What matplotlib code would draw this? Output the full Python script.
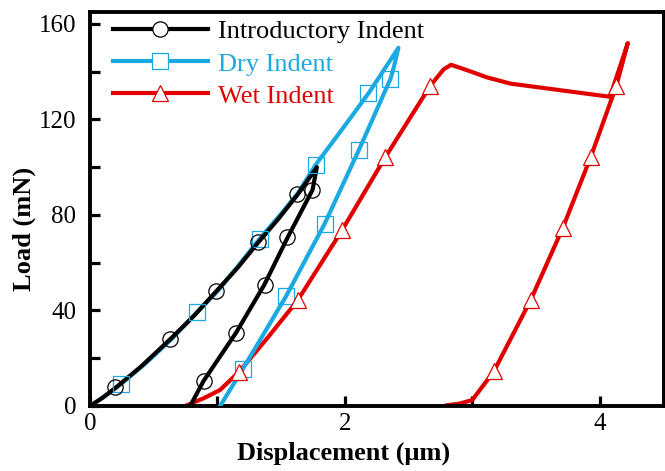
import matplotlib
matplotlib.use("Agg")
import matplotlib.pyplot as plt
from matplotlib.lines import Line2D
from matplotlib.ticker import MultipleLocator

# ---------------- data ----------------
series_names = ["Introductory Indent", "Dry Indent", "Wet Indent"]

intro_x = [0, 0.1, 0.2, 0.4, 0.63, 0.82, 0.99, 1.16, 1.32, 1.48, 1.63, 1.78,
           1.746, 1.55, 1.367, 1.145, 0.89, 0.786]
intro_y = [0, 3.5, 7.6, 16.5, 28, 38, 48, 58, 68.5, 78.5, 88.6, 100,
           90.5, 70.5, 50.7, 30.6, 10.4, 0]
intro_mx = [0.196, 0.628, 0.99, 1.32, 1.626, 1.744, 1.548, 1.375, 1.147, 0.896]
intro_my = [8, 28, 48, 68.5, 88.6, 90.6, 70.6, 50.5, 30.5, 10.4]

dry_x = [0, 0.1, 0.243, 0.45, 0.64, 0.84, 1.0, 1.16, 1.33, 1.5, 1.63, 1.77, 1.98, 2.19, 2.42,
         2.383, 2.357, 2.108, 1.841, 1.540, 1.199, 1.021]
dry_y = [0, 3.5, 9.2, 18.5, 28, 39.3, 48, 58.5, 70, 80.5, 89, 101, 116, 131.3, 150,
         141.7, 136.9, 107, 76.3, 46.1, 15.5, 0]
dry_mx = [0.243, 0.84, 1.33, 1.77, 2.18, 2.357, 2.108, 1.841, 1.540, 1.199]
dry_my = [9.2, 39.3, 70, 101, 131, 137, 107, 76.3, 46.1, 15.5]

wet_x = [0.746, 0.89, 1.02, 1.17, 1.40, 1.63, 1.98, 2.317, 2.67, 2.775, 2.833,
         2.96, 3.116, 3.30, 4.08, 4.22, 4.13, 3.93, 3.71, 3.46, 3.17, 3.0, 2.9, 2.8]
wet_y = [0, 3.2, 6.7, 14.3, 29, 44.3, 73.8, 104.2, 134.1, 141, 142.9,
         140.6, 137.6, 135, 129.5, 152, 134.1, 104.4, 74.6, 44.6, 14.6, 2.5, 1.0, 0.3]
wet_mx = [1.17, 1.63, 1.98, 2.317, 2.67, 4.13, 3.93, 3.71, 3.46, 3.17]
wet_my = [14.3, 44.3, 73.8, 104.2, 134.1, 134.1, 104.4, 74.6, 44.6, 14.6]

x_ticks = [0, 2, 4]
y_ticks = [0, 40, 80, 120, 160]

# ---------------- style ----------------
BLACK = "#000000"
BLUE = "#1BA9E1"
RED = "#E10000"

plt.rcParams["font.family"] = ["Liberation Serif", "DejaVu Serif"]

fig = plt.figure(figsize=(6.65, 4.71), dpi=100)
ax = fig.add_axes([90 / 665, 65 / 471, 573.5 / 665, 394 / 471])

LW = 3.0
MS = 11
MEW = 0.9

ax.plot(wet_x, wet_y, color=RED, lw=LW, solid_joinstyle="round", zorder=2)
ax.plot(dry_x, dry_y, color=BLUE, lw=LW, solid_joinstyle="round", zorder=3)
ax.plot(intro_x, intro_y, color=BLACK, lw=LW, solid_joinstyle="round", zorder=4)

ax.plot(dry_mx, dry_my, ls="none", marker="s", ms=MS, mfc="none", mec=BLUE, mew=MEW, zorder=5)
ax.plot(intro_mx, intro_my, ls="none", marker="o", ms=MS, mfc="none", mec=BLACK, mew=MEW, zorder=6)
ax.plot(wet_mx, wet_my, ls="none", marker="^", ms=MS, mfc="white", mec=RED, mew=MEW, zorder=6)

ax.set_xlim(0, 4.5)
ax.set_ylim(0, 165)
ax.set_xticks(x_ticks)
ax.set_yticks(y_ticks)
ax.xaxis.set_minor_locator(MultipleLocator(1))
ax.yaxis.set_minor_locator(MultipleLocator(20))

for s in ax.spines.values():
    s.set_linewidth(2.8)

ax.tick_params(which="both", direction="in", top=False, right=False,
               length=7, width=2.3, labelsize=18)
ax.tick_params(axis="y", which="major", pad=10)
ax.tick_params(axis="x", which="major", pad=5)

ax.set_xlabel("Displacement (\u03bcm)", fontsize=19, fontweight="bold")
ax.set_ylabel("Load (mN)", fontsize=19, fontweight="bold")
ax.xaxis.set_label_coords(0.443, -0.09)
ax.yaxis.set_label_coords(-0.095, 0.45)

handles = [
    Line2D([], [], color=BLACK, lw=LW, marker="o", ms=MS, mfc="white", mec=BLACK, mew=MEW),
    Line2D([], [], color=BLUE, lw=LW, marker="s", ms=MS, mfc="white", mec=BLUE, mew=MEW),
    Line2D([], [], color=RED, lw=LW, marker="^", ms=MS, mfc="white", mec=RED, mew=MEW),
]
leg = ax.legend(handles, series_names, loc="upper left", bbox_to_anchor=(0.04, 0.98),
                frameon=False, fontsize=19, handlelength=3.6, handletextpad=0.4,
                labelspacing=0.33, borderpad=0, borderaxespad=0)
for t, c in zip(leg.get_texts(), [BLACK, BLUE, RED]):
    t.set_color(c)

fig.savefig("out.png", dpi=100)
